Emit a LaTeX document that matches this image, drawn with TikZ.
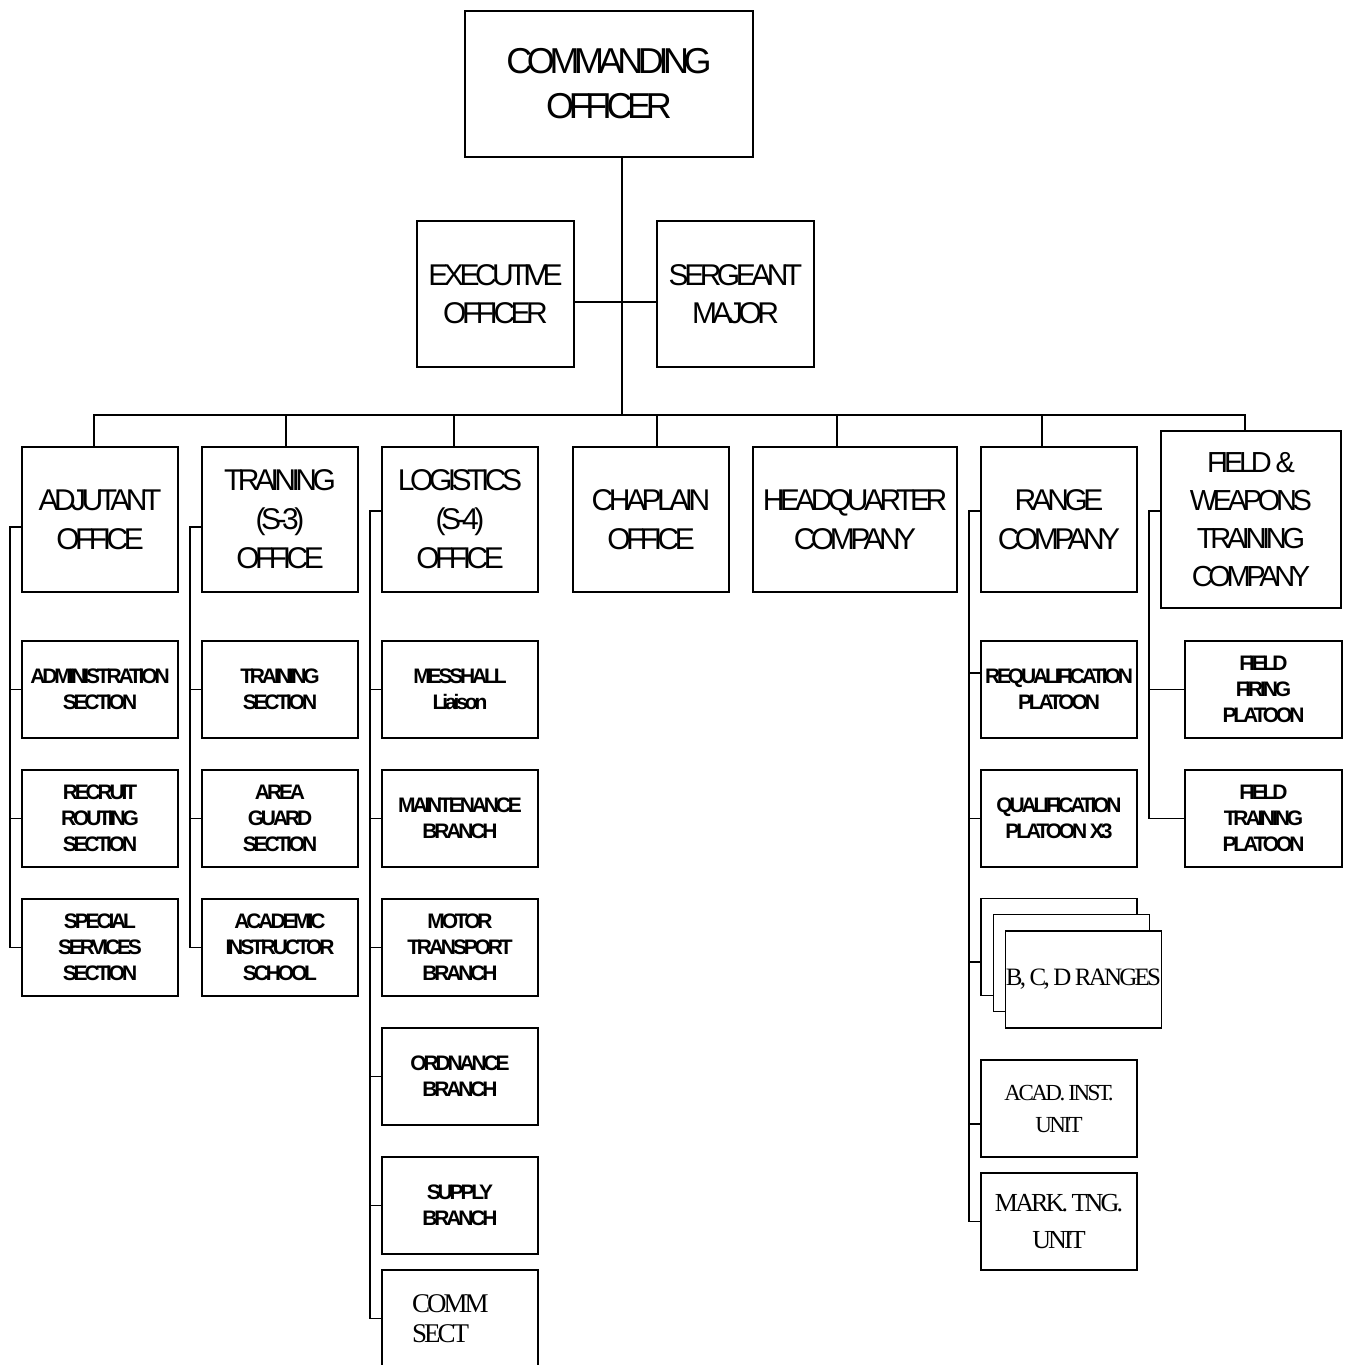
\documentclass[tikz,border=0pt]{standalone}
\usepackage{fontspec}
\setmainfont{Liberation Sans}[LetterSpace=-15]
\newfontfamily\unitserif{Liberation Serif}[LetterSpace=-11]
\usepackage{tikz}

\begin{document}
\begin{tikzpicture}[
    x=1pt, y=-1pt,
    box/.style={rectangle, draw, line width=1.6pt, inner sep=0pt, align=center, fill=white},
    chief/.style={box, minimum width=288, minimum height=146, font=\fontsize{36}{45}\selectfont},
    staff/.style={box, minimum width=157, minimum height=146, font=\fontsize{30}{38}\selectfont},
    office/.style={box, minimum width=156, minimum height=145, font=\fontsize{30}{39}\selectfont},
    section/.style={box, minimum width=156, minimum height=97, font=\bfseries\fontsize{21}{26}\selectfont},
    unit/.style={box, minimum width=156, minimum height=97, font=\unitserif\fontsize{25}{32}\selectfont},
    link/.style={line width=1.5pt}
]
    \useasboundingbox (0,0) rectangle (1344,1365);

    % command group
    \node[chief] (co) at (609,84) {COMMANDING\\OFFICER};
    \node[staff] (xo) at (495.5,294) {EXECUTIVE\\OFFICER};
    \node[staff] (sm) at (735.5,294) {SERGEANT\\MAJOR};

    % offices and companies
    \node[office] (adj) at (100,519.5) {ADJUTANT\\OFFICE};
    \node[office] (trn) at (280,519.5) {TRAINING\\(S-3)\\OFFICE};
    \node[office] (log) at (460,519.5) {LOGISTICS\\(S-4)\\OFFICE};
    \node[office] (chp) at (651,519.5) {CHAPLAIN\\OFFICE};
    \node[office, minimum width=204] (hq) at (855,519.5) {HEADQUARTER\\COMPANY};
    \node[office] (rng) at (1059,519.5) {RANGE\\COMPANY};
    \node[office, minimum width=180, minimum height=177, font=\fontsize{29}{38}\selectfont] (fwt) at (1251,519.5) {FIELD \&\\WEAPONS\\TRAINING\\COMPANY};

    % adjutant sections
    \node[section] (adm) at (100,689.5) {ADMINISTRATION\\SECTION};
    \node[section] (rrs) at (100,818.5) {RECRUIT\\ROUTING\\SECTION};
    \node[section] (sss) at (100,947.5) {SPECIAL\\SERVICES\\SECTION};

    % training sections
    \node[section] (tsec) at (280,689.5) {TRAINING\\SECTION};
    \node[section] (ags) at (280,818.5) {AREA\\GUARD\\SECTION};
    \node[section] (ais) at (280,947.5) {ACADEMIC\\INSTRUCTOR\\SCHOOL};

    % logistics branches
    \node[section] (mess) at (460,689.5) {MESSHALL\\Liaison};
    \node[section] (mnt) at (460,818.5) {MAINTENANCE\\BRANCH};
    \node[section] (mtr) at (460,947.5) {MOTOR\\TRANSPORT\\BRANCH};
    \node[section] (ord) at (460,1076.5) {ORDNANCE\\BRANCH};
    \node[section] (sup) at (460,1205.5) {SUPPLY\\BRANCH};
    \node[unit, text width=96, align=left, font=\unitserif\fontsize{27}{30}\selectfont] (comm) at (460,1318.5) {COMM\\SECT};

    % range company
    \node[section] (req) at (1059,689.5) {REQUALIFICATION\\PLATOON};
    \node[section] (qual) at (1059,818.5) {QUALIFICATION\\PLATOON X3};
    \node[unit] (rng1) at (1059,947) {};
    \node[unit] (rng2) at (1071.5,963) {};
    \node[unit] (rng3) at (1083.5,979.5) {B, C, D RANGES};
    \node[unit, font=\unitserif\fontsize{23}{32}\selectfont] (acad) at (1059,1108.5) {ACAD. INST.\\UNIT};
    \node[unit, font=\unitserif\fontsize{26}{37}\selectfont] (mark) at (1059,1221.5) {MARK. TNG.\\UNIT};

    % field platoons
    \node[section, minimum width=157] (ffp) at (1263.5,689.5) {FIELD\\FIRING\\PLATOON};
    \node[section, minimum width=157] (ftp) at (1263.5,818.5) {FIELD\\TRAINING\\PLATOON};

    % top connectors
    \coordinate (bus) at (622,415);
    \draw[link] ([xshift=13pt]co.south) -- (bus);
    \draw[link] ([yshift=-8pt]xo.east) -- ([yshift=-8pt]sm.west);
    \draw[link] ([xshift=-6pt]adj.north) |- (bus) -| ([xshift=-6pt]fwt.north);
    \draw[link] ([xshift=6pt]trn.north) -- ([xshift=6pt]trn.north |- bus);
    \draw[link] ([xshift=-6pt]log.north) -- ([xshift=-6pt]log.north |- bus);
    \draw[link] ([xshift=6pt]chp.north) -- ([xshift=6pt]chp.north |- bus);
    \draw[link] ([xshift=-18pt]hq.north) -- ([xshift=-18pt]hq.north |- bus);
    \draw[link] ([xshift=-17pt]rng.north) -- ([xshift=-17pt]rng.north |- bus);

    % adjutant spine
    \coordinate (adjspine) at (10,527);
    \draw[link] ([yshift=-7.5pt]adj.west) -- (adjspine) |- (sss.west);
    \draw[link] (adjspine |- adm.west) -- (adm.west);
    \draw[link] (adjspine |- rrs.west) -- (rrs.west);

    % training spine
    \coordinate (trnspine) at (190,527);
    \draw[link] ([yshift=-7.5pt]trn.west) -- (trnspine) |- (ais.west);
    \draw[link] (trnspine |- tsec.west) -- (tsec.west);
    \draw[link] (trnspine |- ags.west) -- (ags.west);

    % logistics spine
    \coordinate (logspine) at (370,511);
    \draw[link] ([yshift=8.5pt]log.west) -- (logspine) |- (comm.west);
    \draw[link] (logspine |- mess.west) -- (mess.west);
    \draw[link] (logspine |- mnt.west) -- (mnt.west);
    \draw[link] (logspine |- mtr.west) -- (mtr.west);
    \draw[link] (logspine |- ord.west) -- (ord.west);
    \draw[link] (logspine |- sup.west) -- (sup.west);

    % range spine
    \coordinate (rngspine) at (969,511);
    \draw[link] ([yshift=8.5pt]rng.west) -- (rngspine) |- (mark.west);
    \draw[link] ([yshift=16.5pt]req.west) -- ([yshift=16.5pt]req.west -| rngspine);
    \draw[link] (rngspine |- qual.west) -- (qual.west);
    \draw[link] ([yshift=-15pt]rng1.west) -- ([yshift=-15pt]rng1.west -| rngspine);
    \draw[link] ([yshift=-15.5pt]acad.west) -- ([yshift=-15.5pt]acad.west -| rngspine);

    % field spine
    \coordinate (fwtspine) at (1149,511);
    \draw[link] ([yshift=8.5pt]fwt.west) -- (fwtspine) |- (ftp.west);
    \draw[link] (fwtspine |- ffp.west) -- (ffp.west);
\end{tikzpicture}
\end{document}
